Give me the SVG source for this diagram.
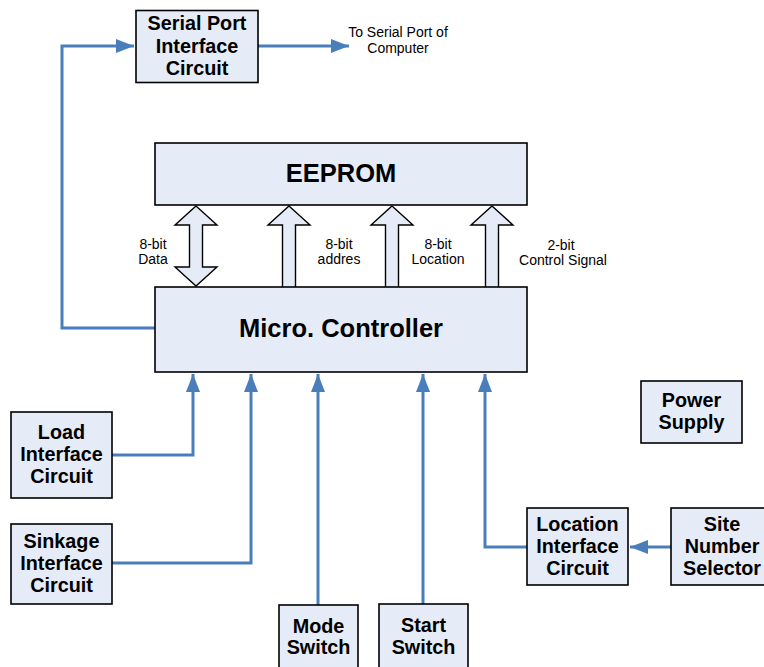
<svg xmlns="http://www.w3.org/2000/svg" width="764" height="667" viewBox="0 0 764 667">
<style>
.box{fill:#e6ecf7;stroke:#000;stroke-width:1.6}
.blk{fill:#e6ecf7;stroke:#000;stroke-width:1.4;stroke-linejoin:miter}
.t{font-family:"Liberation Sans",Arial,sans-serif;font-weight:bold;font-size:19.8px;text-anchor:middle;fill:#000}
.big{font-family:"Liberation Sans",Arial,sans-serif;font-weight:bold;font-size:25.5px;text-anchor:middle;fill:#000}
.s{font-family:"Liberation Sans",Arial,sans-serif;font-size:14px;text-anchor:middle;fill:#000}
.c{fill:none;stroke:#4a7ebb;stroke-width:3}
</style>
<defs>
<marker id="ah" markerUnits="userSpaceOnUse" markerWidth="20" markerHeight="14" refX="18" refY="7" orient="auto">
<path d="M0,0 L18,7 L0,14 Z" fill="#4a7ebb"/>
</marker>
</defs>

<g id="connectors">
<path class="c" d="M155,328 H62 V46 H134" marker-end="url(#ah)"/>
<path class="c" d="M258,46 H349" marker-end="url(#ah)"/>
<path class="c" d="M112,455 H193 V374" marker-end="url(#ah)"/>
<path class="c" d="M112,563 H251 V374" marker-end="url(#ah)"/>
<path class="c" d="M318,605 V374" marker-end="url(#ah)"/>
<path class="c" d="M423,604 V374" marker-end="url(#ah)"/>
<path class="c" d="M527,547 H485 V374" marker-end="url(#ah)"/>
<path class="c" d="M671,547 H630" marker-end="url(#ah)"/>
</g>

<g id="bus-arrows">
<path class="blk" d="M196,206 L217,225 L202.5,225 L202.5,267 L217,267 L196,286 L175,267 L189.5,267 L189.5,225 L175,225 Z"/>
<path class="blk" d="M289,206 L310,225 L295.5,225 L295.5,288 L282.5,288 L282.5,225 L268,225 Z"/>
<path class="blk" d="M392,206 L413,225 L398.5,225 L398.5,288 L385.5,288 L385.5,225 L371,225 Z"/>
<path class="blk" d="M492,206 L513,225 L498.5,225 L498.5,288 L485.5,288 L485.5,225 L471,225 Z"/>
</g>

<g id="labels">
<text class="s" x="153" y="249">8-bit</text>
<text class="s" x="153" y="264">Data</text>
<text class="s" x="339" y="249">8-bit</text>
<text class="s" x="339" y="264">addres</text>
<text class="s" x="438" y="249">8-bit</text>
<text class="s" x="438" y="264">Location</text>
<text class="s" x="561" y="250">2-bit</text>
<text class="s" x="563" y="265">Control Signal</text>
<text class="s" x="398" y="37">To Serial Port of</text>
<text class="s" x="398" y="53">Computer</text>
</g>

<g id="serial">
<rect class="box" x="136" y="10.5" width="122" height="72"/>
<text class="t" x="197" y="30">Serial Port</text>
<text class="t" x="197" y="53">Interface</text>
<text class="t" x="197" y="75">Circuit</text>
</g>

<g id="eeprom">
<rect class="box" x="155" y="143" width="372" height="62"/>
<text class="big" x="341" y="182">EEPROM</text>
</g>

<g id="micro">
<rect class="box" x="155" y="287" width="372" height="85"/>
<text class="big" x="341" y="337">Micro. Controller</text>
</g>

<g id="load">
<rect class="box" x="11" y="412" width="101" height="86"/>
<text class="t" x="61.5" y="439">Load</text>
<text class="t" x="61.5" y="461">Interface</text>
<text class="t" x="61.5" y="483">Circuit</text>
</g>

<g id="sinkage">
<rect class="box" x="11" y="524" width="101" height="80"/>
<text class="t" x="61.5" y="548">Sinkage</text>
<text class="t" x="61.5" y="570">Interface</text>
<text class="t" x="61.5" y="592">Circuit</text>
</g>

<g id="mode">
<rect class="box" x="279" y="605" width="79" height="70"/>
<text class="t" x="318.5" y="633">Mode</text>
<text class="t" x="318.5" y="654">Switch</text>
</g>

<g id="start">
<rect class="box" x="379" y="604" width="89" height="71"/>
<text class="t" x="423.5" y="632">Start</text>
<text class="t" x="423.5" y="654">Switch</text>
</g>

<g id="power">
<rect class="box" x="641" y="381" width="101" height="62"/>
<text class="t" x="691.5" y="407">Power</text>
<text class="t" x="691.5" y="429">Supply</text>
</g>

<g id="location">
<rect class="box" x="527" y="508" width="101" height="77"/>
<text class="t" x="577.5" y="531">Location</text>
<text class="t" x="577.5" y="553">Interface</text>
<text class="t" x="577.5" y="575">Circuit</text>
</g>

<g id="site">
<rect class="box" x="671" y="508" width="100" height="77"/>
<text class="t" x="722" y="531">Site</text>
<text class="t" x="722" y="553">Number</text>
<text class="t" x="722" y="575">Selector</text>
</g>
</svg>
